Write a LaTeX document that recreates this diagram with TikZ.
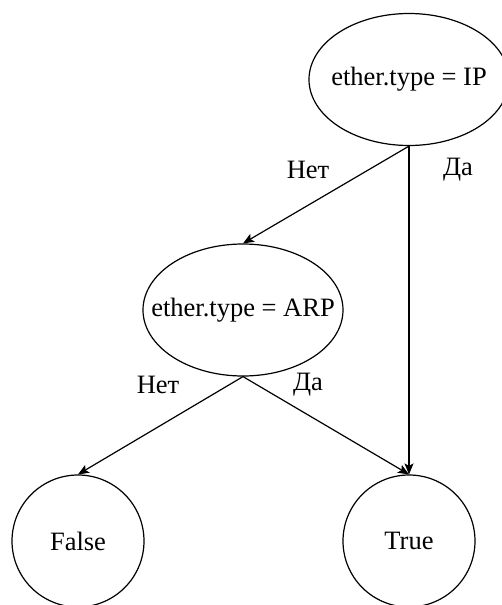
\documentclass[tikz,border=0pt]{standalone}
\usepackage{fontspec}
\setmainfont{Liberation Serif}
\usetikzlibrary{shapes.geometric,arrows.meta}
\begin{document}
\begin{tikzpicture}[x=1pt,y=-1pt,
  every node/.style={font=\fontsize{26.5}{31}\selectfont},
  test/.style={draw, ellipse, line width=1.2pt, minimum width=200pt, minimum height=132pt, inner xsep=-40pt, inner ysep=0pt},
  leaf/.style={draw, circle, line width=1.2pt, minimum size=132pt, inner sep=0pt},
  edge/.style={line width=1.2pt, -{Stealth[length=11pt,width=9pt,inset=2.5pt]}},
  lbl/.style={inner sep=0pt}]
  \useasboundingbox (0,0) rectangle (501,605);
  % decision nodes
  \node[test] (ip)  at (409,79.5) {ether.type = IP};
  \node[test] (arp) at (243,310)  {ether.type = ARP};
  % outcomes
  \node[leaf] (f) at (78,541)  {False};
  \node[leaf] (t) at (409,541) {True};
  % branches
  \draw[edge] (ip.south)  -- (arp.north);
  \draw[edge] (ip.south)  -- (t.north);
  \draw[edge] (arp.south) -- (f.north);
  \draw[edge] (arp.south) -- (t.north);
  % branch labels
  \node[lbl] (n1) at (308,170) {Нет};
  \node[lbl] (y1) at (458,170) {Да};
  \node[lbl] (n2) at (158,385) {Нет};
  \node[lbl] (y2) at (308,385) {Да};
\end{tikzpicture}
\end{document}
